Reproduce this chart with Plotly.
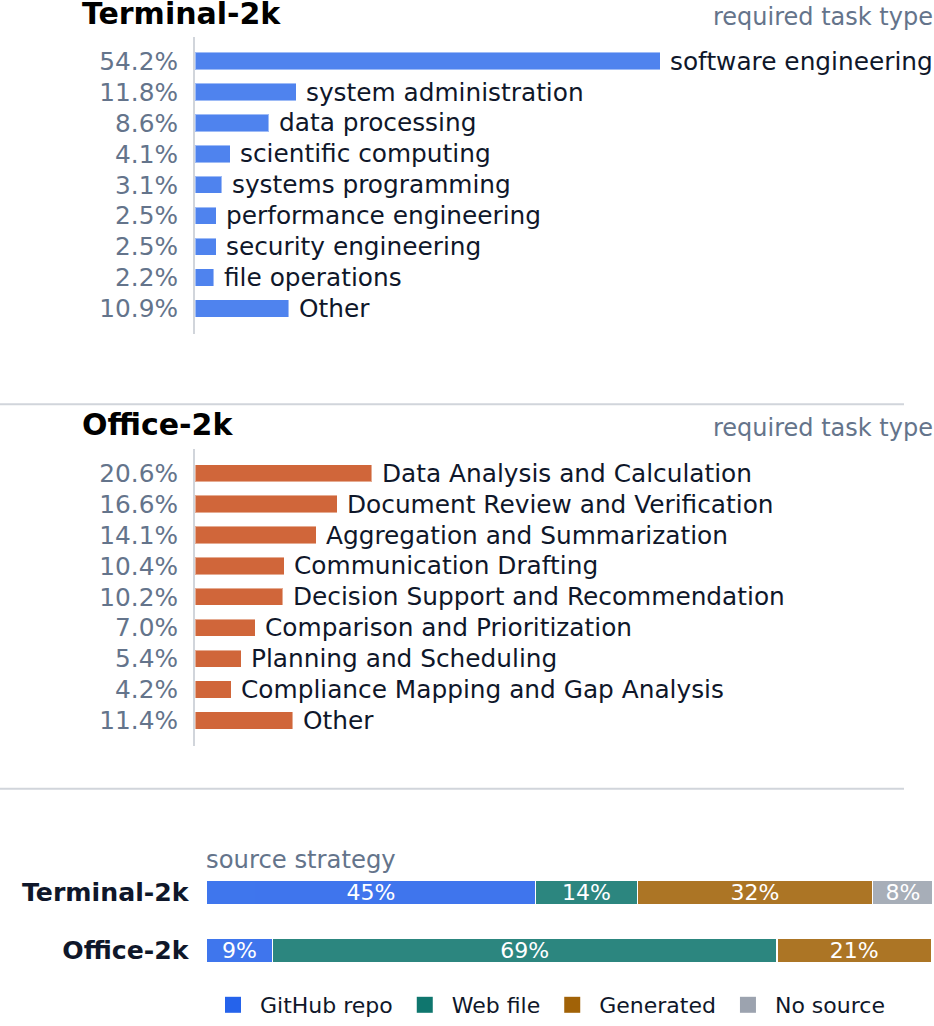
import plotly.graph_objects as go

# ---------------- data ----------------
term_categories = ["software engineering", "system administration", "data processing",
                   "scientific computing", "systems programming", "performance engineering",
                   "security engineering", "file operations", "Other"]
term_values = [54.2, 11.8, 8.6, 4.1, 3.1, 2.5, 2.5, 2.2, 10.9]

office_categories = ["Data Analysis and Calculation", "Document Review and Verification",
                     "Aggregation and Summarization", "Communication Drafting",
                     "Decision Support and Recommendation", "Comparison and Prioritization",
                     "Planning and Scheduling", "Compliance Mapping and Gap Analysis", "Other"]
office_values = [20.6, 16.6, 14.1, 10.4, 10.2, 7.0, 5.4, 4.2, 11.4]

benchmarks = ["Terminal-2k", "Office-2k"]
sources = ["GitHub repo", "Web file", "Generated", "No source"]
source_github = [45.3, 9.1]
source_web = [14.0, 69.4]
source_generated = [32.4, 21.3]
source_none = [8.3, 0.2]
source_values = [source_github, source_web, source_generated, source_none]

# ---------------- style ----------------
FONT = "DejaVu Sans"
W, H = 934, 1026
GRAY = "#64748b"
DARK = "#0f172a"
term_color = "#4f83ee"
office_color = "#d0663a"
source_colors = ["#2563eb", "#0f766e", "#a16207", "#9ca3af"]


def py(px):
    return 1 - px / H


def pxx(px):
    return px / W


fig = go.Figure()

# Terminal panel
fig.add_trace(go.Bar(
    x=term_values, y=list(range(len(term_values))), orientation="h",
    marker=dict(color=term_color, line=dict(color="rgba(255,255,255,0.45)", width=1)),
    width=0.56, xaxis="x", yaxis="y", showlegend=False, hoverinfo="skip"))

# Office panel
fig.add_trace(go.Bar(
    x=office_values, y=list(range(len(office_values))), orientation="h",
    marker=dict(color=office_color, line=dict(color="rgba(255,255,255,0.45)", width=1)),
    width=0.56, xaxis="x2", yaxis="y2", showlegend=False, hoverinfo="skip"))

# Source strategy stacked bars
for name, vals, col in zip(sources, source_values, source_colors):
    fig.add_trace(go.Bar(
        x=vals, y=benchmarks, orientation="h", name=name,
        marker=dict(color=col, opacity=0.88, line=dict(color="white", width=1.5)),
        width=0.42,
        text=[f"{round(v)}%" if v >= 3 else "" for v in vals],
        textposition="inside", insidetextanchor="middle", textangle=0,
        constraintext="none",
        textfont=dict(family=FONT, size=22, color="white"),
        xaxis="x3", yaxis="y3", showlegend=False, hoverinfo="skip"))

# legend entries (full colour squares)
for name, col in zip(sources, source_colors):
    fig.add_trace(go.Scatter(
        x=[None], y=[None], mode="markers", name=name,
        marker=dict(color=col, symbol="square", size=16, line=dict(width=0)),
        xaxis="x3", yaxis="y3", showlegend=True, hoverinfo="skip"))

annotations = []
# category labels next to bars
for vals, cats, yref, xref in [(term_values, term_categories, "y", "x"),
                               (office_values, office_categories, "y2", "x2")]:
    for i, (v, c) in enumerate(zip(vals, cats)):
        annotations.append(dict(
            x=v, y=i, xref=xref, yref=yref, text=c, showarrow=False,
            xanchor="left", yanchor="middle", xshift=8,
            font=dict(family=FONT, size=24.8, color=DARK)))

# titles
for title, ypx, sub_ypx in [("Terminal-2k", 14, 17), ("Office-2k", 428, 431)]:
    annotations.append(dict(
        x=pxx(80), y=py(ypx), xref="paper", yref="paper", text=f"<b>{title}</b>",
        showarrow=False, xanchor="left", yanchor="middle",
        font=dict(family=FONT, size=30, color="black")))
    annotations.append(dict(
        x=pxx(932), y=py(sub_ypx), xref="paper", yref="paper", text="required task type",
        showarrow=False, xanchor="right", yanchor="middle", xshift=3,
        font=dict(family=FONT, size=24, color=GRAY)))

annotations.append(dict(
    x=pxx(204), y=py(866), xref="paper", yref="paper", text="source strategy",
    showarrow=False, xanchor="left", yanchor="middle",
    font=dict(family=FONT, size=24.3, color=GRAY)))

shapes = []
for ypx in [407.5, 795]:
    shapes.append(dict(type="line", xref="paper", yref="paper",
                       x0=0, x1=pxx(904), y0=py(ypx), y1=py(ypx),
                       line=dict(color="#d1d5db", width=2)))

cat_yaxis = dict(
    showline=True, linecolor="#d1d5db", linewidth=2, ticks="",
    tickmode="array", tickvals=list(range(9)),
    tickfont=dict(family=FONT, size=24.8, color=GRAY),
    ticklabelstandoff=10, showgrid=False, zeroline=False,
    range=[8.82, -0.79], fixedrange=True)

fig.update_layout(
    width=W, height=H, margin=dict(l=0, r=0, t=0, b=0),
    paper_bgcolor="white", plot_bgcolor="white",
    barmode="stack",
    font=dict(family=FONT, color=DARK),
    xaxis=dict(domain=[pxx(195), 1], range=[0, 86.1], visible=False, anchor="y"),
    yaxis=dict(domain=[py(336.5), py(37)], anchor="x",
               ticktext=[f"{v:.1f}%" for v in term_values], **cat_yaxis),
    xaxis2=dict(domain=[pxx(195), 1], range=[0, 86.1], visible=False, anchor="y2"),
    yaxis2=dict(domain=[py(751.7), py(452.3)], anchor="x2",
                ticktext=[f"{v:.1f}%" for v in office_values], **cat_yaxis),
    xaxis3=dict(domain=[pxx(206.5), pxx(933)], range=[0, 100], visible=False, anchor="y3"),
    yaxis3=dict(domain=[py(987.25), py(870.25)], anchor="x3", range=[1.5, -0.5],
                showline=False, ticks="", showgrid=False, zeroline=False,
                ticklabelstandoff=17,
                tickfont=dict(family=FONT, size=25.2, color=DARK, weight="bold")),
    legend=dict(orientation="h", x=pxx(206), y=py(1013), xanchor="left", yanchor="middle",
                font=dict(family=FONT, size=22, color=DARK), itemwidth=44,
                itemsizing="trace", traceorder="normal", bgcolor="rgba(0,0,0,0)"),
    annotations=annotations, shapes=shapes,
)

fig.write_html("out.html")
